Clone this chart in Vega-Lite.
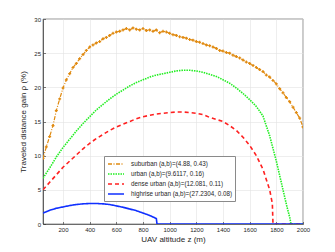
{
  "$schema": "https://vega.github.io/schema/vega-lite/v6.json",
  "width": 260,
  "height": 205,
  "autosize": {"type": "none"},
  "padding": {"left": 43, "top": 19, "right": 32, "bottom": 28},
  "background": "white",
  "config": {
    "font": "Liberation Sans",
    "view": {"stroke": "#262626", "strokeWidth": 0.6},
    "axis": {
      "labelFontSize": 6,
      "labelColor": "#262626",
      "titleFontSize": 8,
      "titleFontWeight": "normal",
      "titleColor": "#262626",
      "domainColor": "#262626",
      "domainWidth": 0.6,
      "tickColor": "#262626",
      "tickSize": -2.5,
      "tickWidth": 0.6,
      "gridColor": "#e3e3e3",
      "gridWidth": 0.6,
      "labelPadding": 5
    }
  },
  "datasets": {
    "sub": [
      {"z": 50, "v": 9.6}, {"z": 75, "v": 11.3}, {"z": 100, "v": 12.8}, {"z": 125, "v": 14.4},
      {"z": 150, "v": 16.6}, {"z": 175, "v": 18.3}, {"z": 200, "v": 19.9}, {"z": 225, "v": 21.1},
      {"z": 250, "v": 22.0}, {"z": 275, "v": 22.9}, {"z": 300, "v": 23.5}, {"z": 325, "v": 24.2},
      {"z": 350, "v": 24.8}, {"z": 375, "v": 25.4}, {"z": 400, "v": 25.9}, {"z": 425, "v": 26.2},
      {"z": 450, "v": 26.5}, {"z": 475, "v": 26.7}, {"z": 500, "v": 27.1}, {"z": 525, "v": 27.3},
      {"z": 550, "v": 27.6}, {"z": 575, "v": 27.9}, {"z": 600, "v": 28.1}, {"z": 625, "v": 28.2},
      {"z": 650, "v": 28.4}, {"z": 675, "v": 28.6}, {"z": 700, "v": 28.4}, {"z": 725, "v": 28.7},
      {"z": 750, "v": 28.5}, {"z": 775, "v": 28.4}, {"z": 800, "v": 28.6}, {"z": 825, "v": 28.3},
      {"z": 850, "v": 28.4}, {"z": 875, "v": 28.2}, {"z": 900, "v": 28.4}, {"z": 925, "v": 28.0},
      {"z": 950, "v": 28.2}, {"z": 975, "v": 28.1}, {"z": 1000, "v": 27.9}, {"z": 1025, "v": 27.7},
      {"z": 1050, "v": 27.6}, {"z": 1075, "v": 27.4}, {"z": 1100, "v": 27.3}, {"z": 1125, "v": 27.2},
      {"z": 1150, "v": 27.0}, {"z": 1175, "v": 26.9}, {"z": 1200, "v": 26.7}, {"z": 1225, "v": 26.6},
      {"z": 1250, "v": 26.4}, {"z": 1275, "v": 26.2}, {"z": 1300, "v": 26.1}, {"z": 1325, "v": 25.9},
      {"z": 1350, "v": 25.7}, {"z": 1375, "v": 25.4}, {"z": 1400, "v": 25.3}, {"z": 1425, "v": 25.1},
      {"z": 1450, "v": 25.0}, {"z": 1475, "v": 24.7}, {"z": 1500, "v": 24.5}, {"z": 1525, "v": 24.3},
      {"z": 1550, "v": 24.0}, {"z": 1575, "v": 23.7}, {"z": 1600, "v": 23.5}, {"z": 1625, "v": 23.2},
      {"z": 1650, "v": 22.9}, {"z": 1675, "v": 22.6}, {"z": 1700, "v": 22.3}, {"z": 1725, "v": 21.8},
      {"z": 1750, "v": 21.5}, {"z": 1775, "v": 21.0}, {"z": 1800, "v": 20.5}, {"z": 1825, "v": 19.8},
      {"z": 1850, "v": 19.2}, {"z": 1875, "v": 18.5}, {"z": 1900, "v": 17.9}, {"z": 1925, "v": 17.1},
      {"z": 1950, "v": 16.3}, {"z": 1975, "v": 15.5}, {"z": 2000, "v": 14.2}
    ],
    "urb": [
      {"z": 50, "v": 6.7}, {"z": 100, "v": 8.2}, {"z": 150, "v": 9.8}, {"z": 200, "v": 11.2},
      {"z": 250, "v": 12.4}, {"z": 300, "v": 13.6}, {"z": 350, "v": 14.7}, {"z": 400, "v": 15.7},
      {"z": 450, "v": 16.7}, {"z": 500, "v": 17.5}, {"z": 550, "v": 18.3}, {"z": 600, "v": 19.0},
      {"z": 650, "v": 19.6}, {"z": 700, "v": 20.2}, {"z": 750, "v": 20.7}, {"z": 800, "v": 21.1},
      {"z": 850, "v": 21.5}, {"z": 900, "v": 21.8}, {"z": 950, "v": 22.0}, {"z": 1000, "v": 22.2},
      {"z": 1050, "v": 22.4}, {"z": 1100, "v": 22.5}, {"z": 1150, "v": 22.5}, {"z": 1200, "v": 22.4},
      {"z": 1250, "v": 22.2}, {"z": 1300, "v": 21.9}, {"z": 1350, "v": 21.6}, {"z": 1400, "v": 21.1},
      {"z": 1450, "v": 20.6}, {"z": 1500, "v": 19.9}, {"z": 1550, "v": 19.1}, {"z": 1600, "v": 18.2},
      {"z": 1650, "v": 17.2}, {"z": 1700, "v": 15.8}, {"z": 1750, "v": 12.9}, {"z": 1800, "v": 9.2},
      {"z": 1850, "v": 5.0}, {"z": 1880, "v": 2.5}, {"z": 1900, "v": 1.0}, {"z": 1910, "v": 0},
      {"z": 2000, "v": 0}
    ],
    "den": [
      {"z": 50, "v": 5.0}, {"z": 100, "v": 6.1}, {"z": 150, "v": 7.2}, {"z": 200, "v": 8.3},
      {"z": 250, "v": 9.2}, {"z": 300, "v": 10.1}, {"z": 350, "v": 11.0}, {"z": 400, "v": 11.8},
      {"z": 450, "v": 12.5}, {"z": 500, "v": 13.1}, {"z": 550, "v": 13.7}, {"z": 600, "v": 14.2},
      {"z": 650, "v": 14.6}, {"z": 700, "v": 15.0}, {"z": 750, "v": 15.4}, {"z": 800, "v": 15.7},
      {"z": 850, "v": 15.9}, {"z": 900, "v": 16.1}, {"z": 950, "v": 16.2}, {"z": 1000, "v": 16.3},
      {"z": 1050, "v": 16.4}, {"z": 1100, "v": 16.4}, {"z": 1150, "v": 16.3}, {"z": 1200, "v": 16.2},
      {"z": 1250, "v": 16.0}, {"z": 1300, "v": 15.6}, {"z": 1350, "v": 15.3}, {"z": 1400, "v": 15.0},
      {"z": 1450, "v": 14.4}, {"z": 1500, "v": 13.7}, {"z": 1550, "v": 12.7}, {"z": 1600, "v": 11.5},
      {"z": 1650, "v": 10.0}, {"z": 1700, "v": 8.0}, {"z": 1750, "v": 5.0}, {"z": 1770, "v": 3.0},
      {"z": 1775, "v": 0}, {"z": 2000, "v": 0}
    ],
    "hig": [
      {"z": 50, "v": 1.6}, {"z": 100, "v": 2.0}, {"z": 150, "v": 2.3}, {"z": 200, "v": 2.5},
      {"z": 250, "v": 2.7}, {"z": 300, "v": 2.85}, {"z": 350, "v": 2.95}, {"z": 400, "v": 3.0},
      {"z": 450, "v": 3.0}, {"z": 500, "v": 2.95}, {"z": 550, "v": 2.85}, {"z": 600, "v": 2.65},
      {"z": 650, "v": 2.45}, {"z": 700, "v": 2.2}, {"z": 750, "v": 1.95}, {"z": 800, "v": 1.6},
      {"z": 850, "v": 1.25}, {"z": 900, "v": 0.8}, {"z": 905, "v": 0}, {"z": 2000, "v": 0}
    ]
  },
  "encoding": {
    "x": {"field": "z", "type": "quantitative", "scale": {"domain": [50, 2000], "nice": false}, "axis": {"values": [200, 400, 600, 800, 1000, 1200, 1400, 1600, 1800, 2000], "format": "d", "labelOverlap": false, "labelFlush": false, "title": "UAV altitude z (m)", "titlePadding": 3}},
    "y": {"field": "v", "type": "quantitative", "scale": {"domain": [0, 30], "nice": false}, "axis": {"values": [0, 5, 10, 15, 20, 25, 30], "format": "d", "labelOverlap": false, "labelFlush": false, "title": "Traveled distance gain ρ (%)", "titlePadding": 6}}
  },
  "layer": [
    {
      "data": {"name": "urb"},
      "transform": [{"calculate": "'urban (a,b)=(9.6117, 0.16)'", "as": "s"}],
      "mark": {"type": "line", "strokeWidth": 1.6, "clip": true},
      "encoding": {
        "color": {"field": "s", "type": "nominal", "scale": {"domain": ["suburban (a,b)=(4.88, 0.43)", "urban (a,b)=(9.6117, 0.16)", "dense urban (a,b)=(12.081, 0.11)", "highrise urban (a,b)=(27.2304, 0.08)"], "range": ["#e08a10", "#22ee22", "#ff2020", "#1030ff"]},
          "legend": {"title": null, "orient": "none", "legendX": 61, "legendY": 137, "labelFontSize": 6.3, "labelColor": "#262626", "symbolType": "M-2,0L2,0", "symbolSize": 64, "symbolStrokeWidth": 1.6, "symbolOffset": 4, "rowPadding": 1, "padding": 3, "strokeColor": "#8a8a8a", "fillColor": "white", "labelOffset": 10, "cornerRadius": 0}},
        "strokeDash": {"field": "s", "type": "nominal", "scale": {"domain": ["suburban (a,b)=(4.88, 0.43)", "urban (a,b)=(9.6117, 0.16)", "dense urban (a,b)=(12.081, 0.11)", "highrise urban (a,b)=(27.2304, 0.08)"], "range": [[4, 1.5, 1, 1.5], [1.5, 1], [4, 3], [1, 0]]}}
      }
    },
    {
      "data": {"name": "den"},
      "transform": [{"calculate": "'dense urban (a,b)=(12.081, 0.11)'", "as": "s"}],
      "mark": {"type": "line", "strokeWidth": 1.6, "clip": true},
      "encoding": {
        "color": {"field": "s", "type": "nominal"},
        "strokeDash": {"field": "s", "type": "nominal"}
      }
    },
    {
      "data": {"name": "sub"},
      "transform": [{"calculate": "'suburban (a,b)=(4.88, 0.43)'", "as": "s"}],
      "mark": {"type": "line", "strokeWidth": 1.2, "clip": true},
      "encoding": {
        "color": {"field": "s", "type": "nominal"},
        "strokeDash": {"field": "s", "type": "nominal"}
      }
    },
    {
      "data": {"name": "sub"},
      "mark": {"type": "point", "shape": "cross", "filled": true, "size": 9, "color": "#e08a10", "opacity": 1, "clip": true},
      "encoding": {}
    },
    {
      "data": {"name": "hig"},
      "transform": [{"calculate": "'highrise urban (a,b)=(27.2304, 0.08)'", "as": "s"}],
      "mark": {"type": "line", "strokeWidth": 1.6, "clip": true},
      "encoding": {
        "color": {"field": "s", "type": "nominal"},
        "strokeDash": {"field": "s", "type": "nominal"}
      }
    }
  ]
}
